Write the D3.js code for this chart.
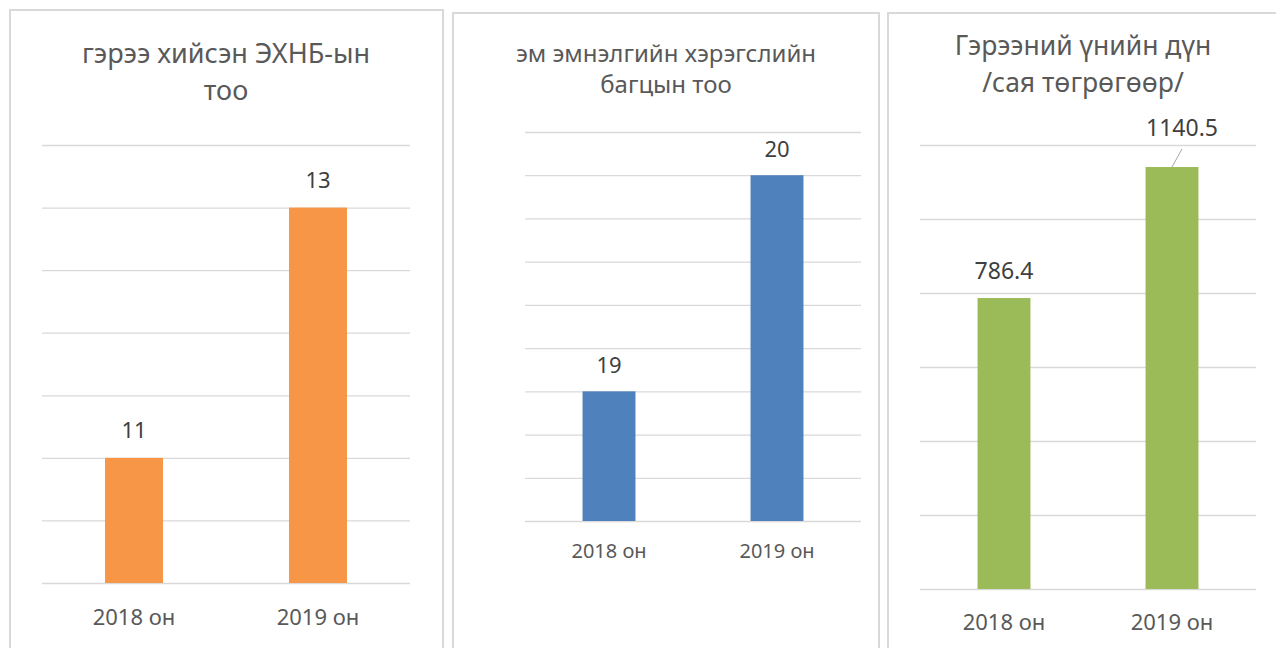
<!DOCTYPE html>
<html>
<head>
<meta charset="utf-8">
<script src="https://cdn.jsdelivr.net/npm/d3@7"></script>
<style>
  body { margin: 0; background: #fff; }
  svg { display: block; font-family: "Noto Sans", sans-serif; }
</style>
</head>
<body>
<div id="chart"></div>
<script>
// data
var categories = ["2018 он", "2019 он"];
var contractCounts = [11, 13];
var kitCounts = [19, 20];
var contractValues = [786.4, 1140.5];

var ticksCounts = [10, 10.5, 11, 11.5, 12, 12.5, 13, 13.5];
var ticksKits = [18.4, 18.6, 18.8, 19, 19.2, 19.4, 19.6, 19.8, 20, 20.2];
var ticksValues = [0, 200, 400, 600, 800, 1000, 1200];

var titleCounts = ["гэрээ хийсэн ЭХНБ-ын", "тоо"];
var titleKits = ["эм эмнэлгийн хэрэгслийн", "багцын тоо"];
var titleValues = ["Гэрээний үнийн дүн", "/сая төгрөгөөр/"];

var svg = d3.select("#chart")
  .append("svg")
  .attr("width", 1276)
  .attr("height", 648);

function drawPanel(p) {
  // frame
  svg.append("rect")
    .attr("x", p.frame[0])
    .attr("y", p.frame[1])
    .attr("width", p.frame[2])
    .attr("height", p.frame[3])
    .attr("fill", "#fff")
    .attr("stroke", "#d9d9d9")
    .attr("stroke-width", 2);

  var x = d3.scaleBand()
    .domain(categories)
    .range([p.left, p.right])
    .paddingInner(0.685)
    .paddingOuter(0.3425);

  var y = d3.scaleLinear()
    .domain([p.ticks[0], p.ticks[p.ticks.length - 1]])
    .range([p.bottom, p.top]);

  var g = svg.append("g");

  // grid
  g.append("g")
    .attr("class", "grid")
    .attr("transform", "translate(" + p.left + ",0)")
    .call(d3.axisLeft(y).tickValues(p.ticks).tickSize(-(p.right - p.left)).tickFormat(""))
    .call(function(s){ s.select(".domain").remove(); })
    .selectAll("line")
    .attr("stroke", "#d9d9d9")
    .attr("stroke-width", 1.3);

  // bars
  g.selectAll("rect.bar")
    .data(p.values)
    .enter()
    .append("rect")
    .attr("class", "bar")
    .attr("x", function(d, i){ return x(categories[i]); })
    .attr("width", x.bandwidth())
    .attr("y", function(d){ return y(d); })
    .attr("height", function(d){ return p.bottom - y(d); })
    .attr("fill", p.color);

  // value labels
  g.selectAll("text.val")
    .data(p.values)
    .enter()
    .append("text")
    .attr("class", "val")
    .attr("x", function(d, i){ return x(categories[i]) + x.bandwidth() / 2 + (p.shift[i] ? p.shift[i][0] : 0); })
    .attr("y", function(d, i){ return y(d) - p.valGap + (p.shift[i] ? p.shift[i][1] : 0); })
    .attr("text-anchor", "middle")
    .attr("fill", "#404040")
    .style("font-size", p.valSize + "px")
    .text(function(d){ return d; });

  // leader lines for moved labels
  p.values.forEach(function(d, i){
    if (!p.shift[i]) return;
    var cx = x(categories[i]) + x.bandwidth() / 2;
    svg.append("line")
      .attr("x1", cx)
      .attr("y1", y(d))
      .attr("x2", cx + p.shift[i][0])
      .attr("y2", y(d) - p.valGap + p.shift[i][1] + 13)
      .attr("stroke", "#a6a6a6")
      .attr("stroke-width", 1);
  });

  // x axis
  g.append("g")
    .attr("transform", "translate(0," + p.bottom + ")")
    .call(d3.axisBottom(x).tickSize(0))
    .call(function(s){ s.select(".domain").remove(); })
    .selectAll("text")
    .attr("y", p.catGap)
    .attr("dy", 0)
    .attr("fill", "#595959")
    .style("font-size", p.catSize + "px")
    .style("font-family", "'Noto Sans', sans-serif");

  // title
  var cx = (p.frame[0] * 2 + p.frame[2]) / 2;
  if (p.titleCx) cx = p.titleCx;
  svg.append("text")
    .attr("text-anchor", "middle")
    .attr("fill", "#595959")
    .style("font-size", p.titleSize + "px")
    .selectAll("tspan")
    .data(p.title)
    .enter()
    .append("tspan")
    .attr("x", cx)
    .attr("y", function(d, i){ return p.titleY[i]; })
    .text(function(d){ return d; });
}

drawPanel({
  frame: [10, 10, 433, 660],
  left: 42, right: 410, top: 145, bottom: 583,
  ticks: ticksCounts,
  values: contractCounts,
  color: "#F79646",
  valGap: 20, valSize: 22, shift: [],
  catGap: 42, catSize: 22,
  title: titleCounts, titleY: [63, 100], titleSize: 27, titleCx: 226
});

drawPanel({
  frame: [453, 13, 426, 660],
  left: 525, right: 861, top: 132, bottom: 521,
  ticks: ticksKits,
  values: kitCounts,
  color: "#4F81BD",
  valGap: 18, valSize: 22, shift: [],
  catGap: 37, catSize: 20,
  title: titleKits, titleY: [62, 93], titleSize: 24, titleCx: 666
});

drawPanel({
  frame: [888, 13, 400, 660],
  left: 920, right: 1256, top: 145, bottom: 589,
  ticks: ticksValues,
  values: contractValues,
  color: "#9BBB59",
  valGap: 19, valSize: 23, shift: [null, [10, -12]],
  catGap: 41, catSize: 22,
  title: titleValues, titleY: [55, 92], titleSize: 26.5, titleCx: 1083
});
</script>
</body>
</html>
